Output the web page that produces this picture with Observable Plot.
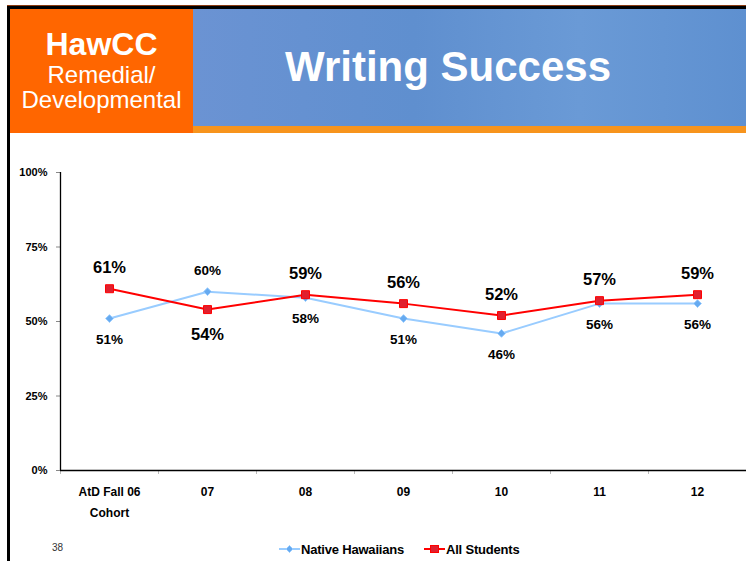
<!DOCTYPE html>
<html>
<head>
<meta charset="utf-8">
<script src="https://cdn.jsdelivr.net/npm/d3@7"></script>
<script src="https://cdn.jsdelivr.net/npm/@observablehq/plot@0.6"></script>
<style>
  html, body { margin: 0; padding: 0; background: #fff; }
  #slide { position: relative; width: 746px; height: 561px; overflow: hidden; font-family: "Liberation Sans", Arial, sans-serif; }
  #topline { position: absolute; left: 7px; top: 5px; width: 739px; height: 1px; background: #8a3a10; }
  #border-top { position: absolute; left: 7px; top: 6px; width: 739px; height: 3px; background: #000; }
  #border-left { position: absolute; left: 7px; top: 6px; width: 3px; height: 555px; background: #000; }
  #orange { position: absolute; left: 10px; top: 9px; width: 183px; height: 124px; background: #ff6600; color: #fff; text-align: center; }
  #orange .t1 { position: absolute; left: 0; width: 100%; top: 19px; font-size: 32px; font-weight: bold; line-height: 32px; }
  #orange .t2 { position: absolute; left: 0; width: 100%; top: 54px; font-size: 24px; line-height: 24.5px; }
  #banner { position: absolute; left: 193px; top: 9px; width: 553px; height: 117px;
    background: linear-gradient(90deg, #6b93d3 0%, #5f8fcf 40%, #6a9ad6 70%, #5e90d0 100%); }
  #banner .title { position: absolute; left: 0; width: 510px; text-align: center; top: 35px; font-size: 42px; font-weight: bold; color: #fff; line-height: 46px; }
  #strip { position: absolute; left: 193px; top: 126px; width: 553px; height: 7px; background: #f7941d; }
  #chart { position: absolute; left: 0; top: 140px; }
  #pagenum { position: absolute; left: 52px; top: 542px; font-size: 10px; color: #333; }
  #legend { position: absolute; left: 279px; top: 541px; height: 16px; display: flex; align-items: center; font-size: 13px; font-weight: bold; color: #000; letter-spacing: -0.2px; }
  #legend .item { display: flex; align-items: center; margin-right: 20px; }
  #legend svg { margin-right: 1px; }
</style>
</head>
<body>
<div id="slide">
  <div id="topline"></div>
  <div id="border-top"></div>
  <div id="orange"><div class="t1">HawCC</div><div class="t2">Remedial/<br>Developmental</div></div>
  <div id="banner"><div class="title">Writing Success</div></div>
  <div id="strip"></div>
  <div id="border-left"></div>
  <div id="chart"></div>
  <div id="pagenum">38</div>
  <div id="legend"></div>
</div>
<script>
const categories = ["AtD Fall 06\nCohort", "07", "08", "09", "10", "11", "12"];
const nativeHawaiians = [51, 60, 58, 51, 46, 56, 56];
const allStudents = [61, 54, 59, 56, 52, 57, 59];
const seriesNames = ["Native Hawaiians", "All Students"];
const yTicks = [0, 25, 50, 75, 100];

const nativeColor = "#99ccff";
const nativeMarker = "#66aaf0";
const allColor = "#ff0000";
const allMarker = "#e0202e";

const idx = d3.range(categories.length);
const xDomain = [-0.5, categories.length - 0.5];
const boundaries = d3.range(categories.length + 1).map(i => i - 0.5);

const nh = idx.map(i => ({i, v: nativeHawaiians[i], above: nativeHawaiians[i] > allStudents[i]}));
const as = idx.map(i => ({i, v: allStudents[i], above: allStudents[i] >= nativeHawaiians[i]}));

const chart = Plot.plot({
  width: 746,
  height: 385,
  marginLeft: 60,
  marginRight: 0,
  marginTop: 32,
  marginBottom: 55,
  style: {fontFamily: "Liberation Sans, Arial, sans-serif", background: "transparent", color: "#000"},
  x: {type: "linear", domain: xDomain, label: null},
  y: {domain: [0, 100], label: null},
  marks: [
    Plot.axisY({ticks: yTicks, tickFormat: d => d + "%", tickSize: 4, tickPadding: 9, fontSize: 11, fontWeight: "bold", stroke: "#888", label: null}),
    Plot.axisX({ticks: boundaries, tickFormat: () => "", tickSize: 4, stroke: "#bbb", label: null}),
    Plot.axisX({ticks: idx, tickFormat: i => categories[i], tickSize: 0, tickPadding: 10, fontSize: 12, fontWeight: "bold", lineHeight: 1.8, letterSpacing: "-0.3px", label: null}),
    Plot.ruleY([0], {stroke: "#000", strokeWidth: 1.3}),
    Plot.ruleX([xDomain[0]], {stroke: "#000", strokeWidth: 1.3}),
    Plot.line(nh, {x: "i", y: "v", stroke: nativeColor, strokeWidth: 2}),
    Plot.dot(nh, {x: "i", y: "v", symbol: "diamond2", r: 3.5, fill: nativeMarker, stroke: nativeColor, strokeWidth: 1}),
    Plot.line(as, {x: "i", y: "v", stroke: allColor, strokeWidth: 2}),
    Plot.dot(as, {x: "i", y: "v", symbol: "square", r: 4.5, fill: allMarker, stroke: allColor, strokeWidth: 1}),
    Plot.text(nh, {x: "i", y: "v", text: d => d.v + "%", fontSize: 13.5, fontWeight: "bold", fill: "#000",
      filter: d => d.above, dy: -21}),
    Plot.text(nh, {x: "i", y: "v", text: d => d.v + "%", fontSize: 13.5, fontWeight: "bold", fill: "#000",
      filter: d => !d.above, dy: 21}),
    Plot.text(as, {x: "i", y: "v", text: d => d.v + "%", fontSize: 16.5, fontWeight: "bold", fill: "#000",
      filter: d => d.above, dy: -21}),
    Plot.text(as, {x: "i", y: "v", text: d => d.v + "%", fontSize: 16.5, fontWeight: "bold", fill: "#000",
      filter: d => !d.above, dy: 25})
  ]
});
document.getElementById("chart").appendChild(chart);

// legend
const legend = d3.select("#legend");
const specs = [
  {name: seriesNames[0], color: nativeColor, marker: nativeMarker, shape: "diamond"},
  {name: seriesNames[1], color: allColor, marker: allMarker, shape: "square"}
];
specs.forEach(s => {
  const it = legend.append("div").attr("class", "item");
  const svg = it.append("svg").attr("width", 21).attr("height", 12);
  svg.append("line").attr("x1", 0).attr("x2", 21).attr("y1", 6).attr("y2", 6).attr("stroke", s.color).attr("stroke-width", 2);
  if (s.shape === "square") {
    svg.append("rect").attr("x", 6.5).attr("y", 2.5).attr("width", 8).attr("height", 7).attr("fill", s.marker).attr("stroke", s.color);
  } else {
    svg.append("path").attr("d", "M10.5,2.5L14,6L10.5,9.5L7,6Z").attr("fill", s.marker).attr("stroke", s.color);
  }
  it.append("span").text(s.name);
});
</script>
</body>
</html>
